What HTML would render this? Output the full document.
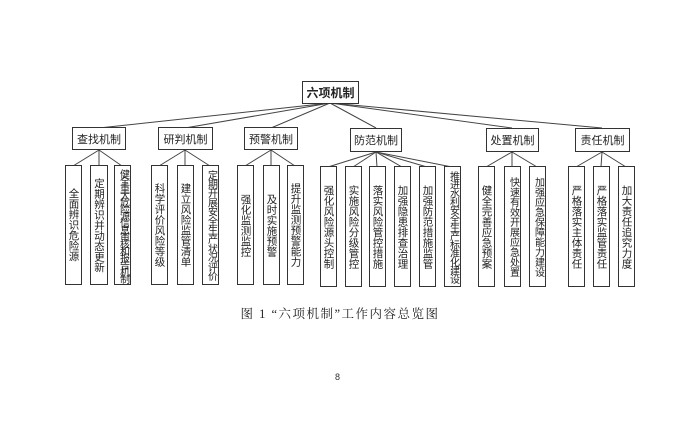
<!DOCTYPE html>
<html><head><meta charset="utf-8"><style>
body{margin:0;width:675px;height:428px;background:#fff;position:relative;overflow:hidden;font-family:"Liberation Sans","Noto Sans CJK SC",sans-serif;}
.b{position:absolute;border:1.3px solid #333;box-sizing:border-box;background:#fff;display:flex;align-items:center;justify-content:center;color:#222;}
.m{font-size:11px;}
.l{writing-mode:vertical-rl;font-size:10.5px;line-height:12px;white-space:nowrap;}
svg{position:absolute;left:0;top:0;}
</style></head><body>
<svg width="675" height="428">
<g stroke="#444" stroke-width="1" fill="none">
<line x1="330" y1="103" x2="99" y2="128"/><line x1="330" y1="103" x2="185" y2="128"/><line x1="330" y1="103" x2="271" y2="128"/>
<line x1="330" y1="103" x2="376" y2="128"/><line x1="330" y1="103" x2="512" y2="128"/><line x1="330" y1="103" x2="602" y2="128"/>
<line x1="99" y1="150" x2="73" y2="166"/><line x1="99" y1="150" x2="99" y2="166"/><line x1="99" y1="150" x2="122" y2="166"/>
<line x1="185" y1="150" x2="159" y2="166"/><line x1="185" y1="150" x2="185" y2="166"/><line x1="185" y1="150" x2="210" y2="166"/>
<line x1="271" y1="150" x2="245" y2="166"/><line x1="271" y1="150" x2="271" y2="166"/><line x1="271" y1="150" x2="295" y2="166"/>
<line x1="376" y1="152" x2="328" y2="167"/><line x1="376" y1="152" x2="353" y2="167"/><line x1="376" y1="152" x2="377" y2="167"/><line x1="376" y1="152" x2="402" y2="167"/><line x1="376" y1="152" x2="427" y2="167"/><line x1="376" y1="152" x2="452" y2="167"/>
<line x1="512" y1="152" x2="486" y2="167"/><line x1="512" y1="152" x2="512" y2="167"/><line x1="512" y1="152" x2="537" y2="167"/>
<line x1="602" y1="152" x2="576" y2="167"/><line x1="602" y1="152" x2="601" y2="167"/><line x1="602" y1="152" x2="626" y2="167"/>
</g></svg>
<div class="b" style="left:302px;top:81px;width:57px;height:23px;font-size:12px;font-weight:bold">六项机制</div>
<div class="b m" style="left:72px;top:127px;width:54px;height:23px">查找机制</div>
<div class="b m" style="left:158px;top:127px;width:55px;height:23px">研判机制</div>
<div class="b m" style="left:244px;top:127px;width:54px;height:23px">预警机制</div>
<div class="b m" style="left:350px;top:128px;width:52px;height:24px">防范机制</div>
<div class="b m" style="left:486px;top:128px;width:53px;height:24px">处置机制</div>
<div class="b m" style="left:575px;top:128px;width:55px;height:24px">责任机制</div>

<div class="b l" style="left:65px;top:165px;width:17px;height:120px">全面辨识危险源</div>
<div class="b l" style="left:90px;top:165px;width:18px;height:120px">定期辨识并动态更新</div>
<div class="b l" style="left:114px;top:165px;width:17px;height:120px;font-size:10px;letter-spacing:-3px">健全重大危险源信息审核和报告机制</div>
<div class="b l" style="left:151px;top:165px;width:17px;height:120px">科学评价风险等级</div>
<div class="b l" style="left:177px;top:165px;width:17px;height:120px">建立风险监管清单</div>
<div class="b l" style="left:202px;top:165px;width:17px;height:120px;font-size:10px;letter-spacing:-0.8px">定期开展安全生产状况评价</div>
<div class="b l" style="left:237px;top:165px;width:17px;height:120px">强化监测监控</div>
<div class="b l" style="left:263px;top:165px;width:17px;height:120px">及时实施预警</div>
<div class="b l" style="left:287px;top:165px;width:17px;height:120px">提升监测预警能力</div>
<div class="b l" style="left:320px;top:166px;width:17px;height:121px">强化风险源头控制</div>
<div class="b l" style="left:345px;top:166px;width:17px;height:121px">实施风险分级管控</div>
<div class="b l" style="left:369px;top:166px;width:17px;height:121px">落实风险管控措施</div>
<div class="b l" style="left:394px;top:166px;width:17px;height:121px">加强隐患排查治理</div>
<div class="b l" style="left:419px;top:166px;width:17px;height:121px">加强防范措施监管</div>
<div class="b l" style="left:444px;top:166px;width:17px;height:121px;font-size:10px;letter-spacing:-1.4px">推进水利安全生产标准化建设</div>
<div class="b l" style="left:478px;top:166px;width:17px;height:121px">健全完善应急预案</div>
<div class="b l" style="left:504px;top:166px;width:17px;height:121px;font-size:10px">快速有效开展应急处置</div>
<div class="b l" style="left:529px;top:166px;width:17px;height:121px;font-size:10px">加强应急保障能力建设</div>
<div class="b l" style="left:568px;top:166px;width:17px;height:121px">严格落实主体责任</div>
<div class="b l" style="left:593px;top:166px;width:17px;height:121px">严格落实监管责任</div>
<div class="b l" style="left:618px;top:166px;width:17px;height:121px">加大责任追究力度</div>

<div style="position:absolute;left:200px;top:304px;width:280px;text-align:center;font-family:'Liberation Serif','Noto Serif CJK SC',serif;font-size:12.5px;letter-spacing:1.5px;color:#222">图 1 “六项机制”工作内容总览图</div>
<div style="position:absolute;left:335px;top:372px;font-size:9px;color:#333">8</div>
</body></html>
